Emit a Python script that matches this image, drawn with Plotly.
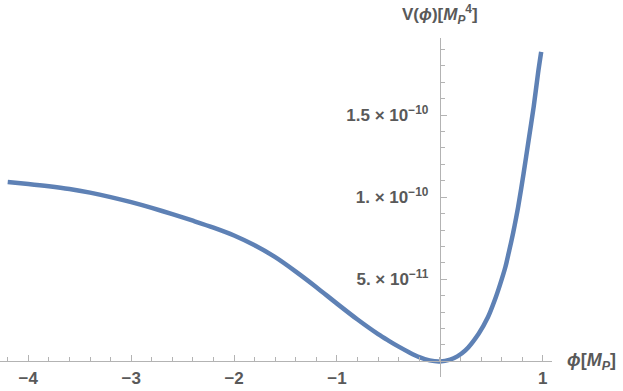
import plotly.graph_objects as go

# Field values (in M_P) and potential values V(phi) (in M_P^4)
phi = [-4.2, -4.0, -3.8, -3.6, -3.4, -3.2, -3.0, -2.8, -2.6, -2.4, -2.2, -2.0,
       -1.8, -1.6, -1.4, -1.2, -1.0, -0.8, -0.6, -0.5, -0.4, -0.3, -0.2, -0.1,
       0.0, 0.1, 0.17, 0.248, 0.377, 0.468, 0.533, 0.588, 0.637, 0.675, 0.711,
       0.743, 0.761, 0.814, 0.863, 0.912, 0.954, 0.985]
V = [1.093e-10, 1.081e-10, 1.067e-10, 1.050e-10, 1.028e-10, 1.001e-10,
     9.70e-11, 9.35e-11, 8.97e-11, 8.57e-11, 8.15e-11, 7.67e-11, 7.07e-11,
     6.35e-11, 5.47e-11, 4.52e-11, 3.52e-11, 2.55e-11, 1.66e-11, 1.27e-11,
     9.0e-12, 5.6e-12, 2.6e-12, 6.5e-13, 0.0, 1.1e-12, 3.1e-12, 6.7e-12,
     1.69e-11, 2.70e-11, 3.72e-11, 4.74e-11, 5.75e-11, 6.77e-11, 7.79e-11,
     8.80e-11, 9.41e-11, 1.145e-10, 1.348e-10, 1.551e-10, 1.754e-10, 1.885e-10]

x_tickvals = [-4, -3, -2, -1, 1]
x_ticktext = ["−4", "−3", "−2", "−1", "1"]
y_tickvals = [5e-11, 1e-10, 1.5e-10]
y_ticktext = ["5. × 10<sup>−11</sup>", "1. × 10<sup>−10</sup>", "1.5 × 10<sup>−10</sup>"]

x_range = [-4.275, 1.09]
y_range = [-0.95e-11, 1.97e-10]

axis_col = "#b3b3b3"
text_col = "#595959"
font_fam = "Liberation Sans, Arial, sans-serif"

fig = go.Figure()
fig.add_trace(go.Scatter(
    x=phi, y=V, mode="lines",
    line=dict(color="#5E81B5", width=4.5, shape="spline", smoothing=0.8),
    hoverinfo="skip", showlegend=False,
))

x_pos = (0 - y_range[0]) / (y_range[1] - y_range[0])
y_pos = (0 - x_range[0]) / (x_range[1] - x_range[0])

fig.update_layout(
    width=623, height=391,
    margin=dict(l=0, r=71, t=38, b=14),
    paper_bgcolor="white", plot_bgcolor="white",
    xaxis=dict(
        range=x_range, anchor="free", position=x_pos,
        showgrid=False, zeroline=False, automargin=False,
        showline=True, linecolor=axis_col, linewidth=1,
        tickmode="array", tickvals=x_tickvals, ticktext=x_ticktext,
        ticks="inside", ticklen=6, tickcolor=axis_col, tickwidth=1,
        tickfont=dict(family=font_fam, size=17, color=text_col, weight="bold"),
        ticklabelstandoff=1,
        minor=dict(tick0=0, dtick=0.2, ticks="inside", ticklen=4,
                   tickcolor=axis_col, tickwidth=1, showgrid=False),
    ),
    yaxis=dict(
        range=y_range, anchor="free", position=y_pos,
        showgrid=False, zeroline=False, automargin=False,
        showline=True, linecolor=axis_col, linewidth=1,
        tickmode="array", tickvals=y_tickvals, ticktext=y_ticktext,
        ticks="inside", ticklen=6, tickcolor=axis_col, tickwidth=1,
        tickfont=dict(family=font_fam, size=17, color=text_col, weight="bold"),
        ticklabelstandoff=8,
        minor=dict(tick0=0, dtick=1e-11, ticks="inside", ticklen=4,
                   tickcolor=axis_col, tickwidth=1, showgrid=False),
    ),
    annotations=[
        dict(text="V(<i>ϕ</i>)[<i>M</i><sub><i>P</i></sub><sup>4</sup>]",
             xref="x", x=0, yref="paper", y=1, xanchor="center",
             yanchor="bottom", yshift=9, showarrow=False,
             font=dict(family=font_fam, size=17, color=text_col, weight="bold")),
        dict(text="<i>ϕ</i>[<i>M</i><sub><i>P</i></sub>]",
             xref="paper", x=1, yref="y", y=0, xanchor="left",
             yanchor="middle", xshift=13, showarrow=False,
             font=dict(family=font_fam, size=18, color=text_col, weight="bold")),
    ],
)

fig.write_html("out.html", config={"displayModeBar": False},
               post_script="document.body.style.margin='0px';")
